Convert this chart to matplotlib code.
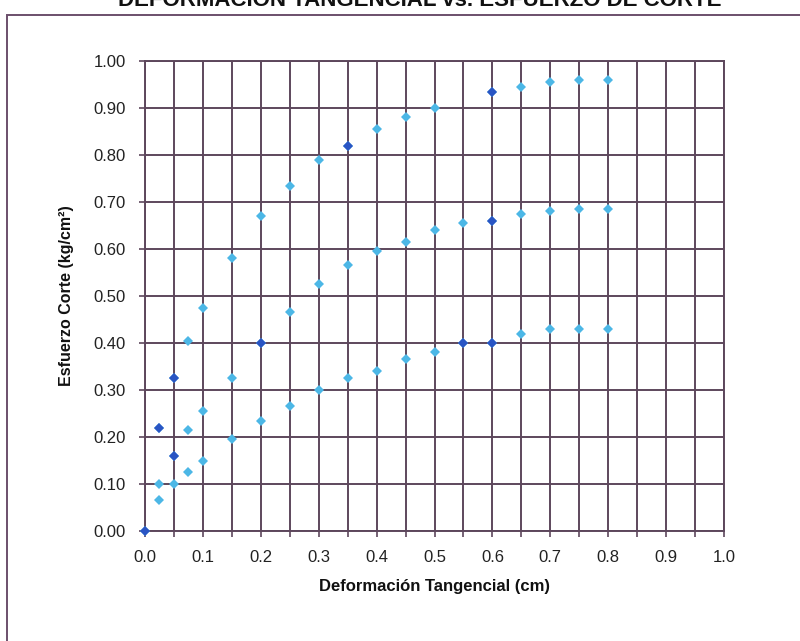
import matplotlib
matplotlib.use("Agg")
import matplotlib.pyplot as plt
from matplotlib.patches import Rectangle
from matplotlib.ticker import MultipleLocator, FormatStrFormatter

plt.rcParams['font.family'] = ['Liberation Sans', 'DejaVu Sans']

# Tangential deformation (cm) vs shear stress (kg/cm2) for three normal loads
def_a = [0.0, 0.025, 0.05, 0.075, 0.1, 0.15, 0.2, 0.25, 0.3, 0.35, 0.4, 0.45, 0.5, 0.6, 0.65, 0.7, 0.75, 0.8]
stress_a = [0.0, 0.22, 0.325, 0.405, 0.475, 0.58, 0.67, 0.735, 0.79, 0.82, 0.855, 0.88, 0.90, 0.935, 0.945, 0.955, 0.96, 0.96]

def_b = [0.025, 0.05, 0.075, 0.1, 0.15, 0.2, 0.25, 0.3, 0.35, 0.4, 0.45, 0.5, 0.55, 0.6, 0.65, 0.7, 0.75, 0.8]
stress_b = [0.10, 0.16, 0.215, 0.255, 0.325, 0.40, 0.465, 0.525, 0.565, 0.595, 0.615, 0.64, 0.655, 0.66, 0.675, 0.68, 0.685, 0.685]

def_c = [0.025, 0.05, 0.075, 0.1, 0.15, 0.2, 0.25, 0.3, 0.35, 0.4, 0.45, 0.5, 0.55, 0.6, 0.65, 0.7, 0.75, 0.8]
stress_c = [0.065, 0.10, 0.125, 0.15, 0.195, 0.235, 0.265, 0.30, 0.325, 0.34, 0.365, 0.38, 0.40, 0.40, 0.42, 0.43, 0.43, 0.43]

x_ticks = [0.0, 0.1, 0.2, 0.3, 0.4, 0.5, 0.6, 0.7, 0.8, 0.9, 1.0]
y_ticks = [0.0, 0.1, 0.2, 0.3, 0.4, 0.5, 0.6, 0.7, 0.8, 0.9, 1.0]

title = "DEFORMACIÓN TANGENCIAL vs. ESFUERZO DE CORTE"
x_title = "Deformación Tangencial (cm)"
y_title = "Esfuerzo Corte (kg/cm²)"

GRID = "#5d475c"
LIGHT = "#4cb7e6"
DARK = "#2a55c4"

W, H = 800, 641
fig = plt.figure(figsize=(W / 100, H / 100), dpi=100)
fig.patch.set_facecolor("white")

# chart-area frame (runs off the right and bottom edges)
fig.patches.append(Rectangle((7 / W, -0.2), 1.2, (H - 15) / H + 0.2,
                             transform=fig.transFigure, fill=False,
                             edgecolor="#6b4f6b", linewidth=1.4, zorder=0))

ax = fig.add_axes([145 / W, 1 - 531 / H, (724 - 145) / W, (531 - 61) / H])
ax.set_xlim(0, 1.0)
ax.set_ylim(0, 1.0)

ax.set_xticks(x_ticks)
ax.set_yticks(y_ticks)
ax.xaxis.set_minor_locator(MultipleLocator(0.05))
ax.xaxis.set_major_formatter(FormatStrFormatter("%.1f"))
ax.yaxis.set_major_formatter(FormatStrFormatter("%.2f"))

ax.grid(True, which="both", axis="x", color=GRID, linewidth=1.4)
ax.grid(True, which="major", axis="y", color=GRID, linewidth=1.4)
ax.set_axisbelow(True)
for s in ax.spines.values():
    s.set_color(GRID)
    s.set_linewidth(1.4)

ax.tick_params(axis="both", which="both", color=GRID, direction="out",
               length=4, width=1.2, labelsize=12, labelcolor="#222222")
ax.tick_params(axis="x", pad=10)
ax.tick_params(axis="y", pad=10)

mk = dict(marker="D", markersize=4.8, linestyle="none", markeredgewidth=0, clip_on=False)
ax.plot(def_a, stress_a, color=LIGHT, **mk, zorder=3)
ax.plot(def_b, stress_b, color=LIGHT, **mk, zorder=3)
ax.plot(def_c, stress_c, color=LIGHT, **mk, zorder=3)

# darker points in the series
dark_a = [0, 1, 2, 9, 13]
dark_b = [1, 5, 13]
dark_c = [12, 13]
ax.plot([def_a[i] for i in dark_a], [stress_a[i] for i in dark_a], color=DARK, **mk, zorder=4)
ax.plot([def_b[i] for i in dark_b], [stress_b[i] for i in dark_b], color=DARK, **mk, zorder=4)
ax.plot([def_c[i] for i in dark_c], [stress_c[i] for i in dark_c], color=DARK, **mk, zorder=4)

ax.set_xlabel(x_title, fontsize=12, fontweight="bold", labelpad=10, color="#111111")
ax.set_ylabel(y_title, fontsize=11.5, fontweight="bold", labelpad=14, color="#111111")

fig.text(420 / W, 1 - 6 / H, title, ha="center", va="baseline",
         fontsize=16, fontweight="bold", color="#111111")

fig.savefig("out.png", dpi=100)
